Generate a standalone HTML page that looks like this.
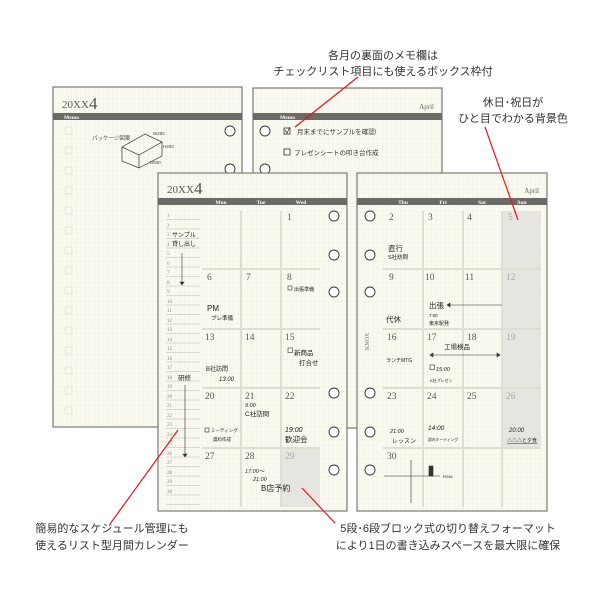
<!DOCTYPE html>
<html><head><meta charset="utf-8"><style>
html,body{margin:0;padding:0;background:#fff;width:600px;height:600px;overflow:hidden}
svg{display:block}
text{font-family:"Liberation Sans","Noto Sans CJK JP",sans-serif}
text.s,.s text{font-family:"Liberation Serif","Noto Serif CJK SC",serif}
.h text{fill:#333}
</style></head><body>
<svg width="600" height="600" viewBox="0 0 600 600" xmlns="http://www.w3.org/2000/svg">
<defs>
<pattern id="g" width="4.5" height="4.5" patternUnits="userSpaceOnUse">
<rect width="4.5" height="4.5" fill="#fbfaf0"/>
<path d="M4.5 0V4.5H0" fill="none" stroke="#ebe9db" stroke-width="0.6"/>
</pattern>
</defs>

<!-- Back left page -->
<rect x="53" y="87" width="189" height="340" fill="url(#g)" stroke="#7a7a76" stroke-width="1.2"/>
<text x="62" y="108" class="s" font-size="11" fill="#555">20XX</text>
<text x="89" y="109" class="s" font-size="17" fill="#555">4</text>
<rect x="53" y="113" width="189" height="7" fill="#6b6a66"/>
<text x="64" y="119" class="s" font-size="5.5" fill="#fff" font-weight="bold">Memo</text>
<g fill="none" stroke="#e3e1d3" stroke-width="0.8">
<rect x="65" y="127" width="7" height="7"/><rect x="65" y="147" width="7" height="7"/><rect x="65" y="167" width="7" height="7"/><rect x="65" y="187" width="7" height="7"/><rect x="65" y="207" width="7" height="7"/><rect x="65" y="227" width="7" height="7"/><rect x="65" y="247" width="7" height="7"/><rect x="65" y="267" width="7" height="7"/><rect x="65" y="287" width="7" height="7"/><rect x="65" y="307" width="7" height="7"/><rect x="65" y="327" width="7" height="7"/><rect x="65" y="347" width="7" height="7"/><rect x="65" y="367" width="7" height="7"/><rect x="65" y="387" width="7" height="7"/><rect x="65" y="407" width="7" height="7"/>
</g>
<g fill="#fff" stroke="#333" stroke-width="0.9"><circle cx="230" cy="131" r="5"/><circle cx="230" cy="169" r="5"/></g>
<text x="92" y="140" font-size="5.5" fill="#444">パッケージ図案</text>
<g fill="none" stroke="#333" stroke-width="0.7">
<path d="M122 147L145 134L162 142L139 155Z M122 147V161L139 168V155 M139 168L162 156V142"/>
</g>
<text x="153" y="135" font-size="4.5" fill="#444">W250</text>
<text x="163" y="148" font-size="4.5" fill="#444">H200</text>
<text x="150" y="164" font-size="4.5" fill="#444">D500</text>

<!-- Back right page -->
<rect x="253" y="88" width="189" height="340" fill="url(#g)" stroke="#7a7a76" stroke-width="1.2"/>
<text x="434" y="109" class="s" font-size="7" fill="#666" text-anchor="end">April</text>
<rect x="253" y="113" width="189" height="7" fill="#6b6a66"/>
<text x="280" y="119" class="s" font-size="5.5" fill="#fff" font-weight="bold">Memo</text>
<g fill="#fff" stroke="#333" stroke-width="0.9"><circle cx="265" cy="131" r="5"/><circle cx="265" cy="169" r="5"/></g>
<rect x="284" y="128" width="6" height="6" fill="none" stroke="#333" stroke-width="0.8"/>
<path d="M285 130l2 3l3 -6" fill="none" stroke="#333" stroke-width="0.7"/>
<text x="297" y="134" font-size="6.5" fill="#333">月末までにサンプルを確認!</text>
<rect x="284" y="149" width="6" height="6" fill="none" stroke="#333" stroke-width="0.8"/>
<text x="294" y="155" font-size="6.5" fill="#333">プレゼンシートの叩き台作成</text>

<!-- Front left page -->
<rect x="158" y="173" width="189" height="338" fill="url(#g)" stroke="#7a7a76" stroke-width="1.2"/>
<text x="167" y="193" class="s" font-size="11" fill="#555">20XX</text>
<text x="194" y="194" class="s" font-size="17" fill="#555">4</text>
<rect x="158" y="198" width="189" height="7" fill="#6b6a66"/>
<g class="s" font-size="5.5" fill="#fff" font-weight="bold" text-anchor="middle">
<text x="221" y="204">Mon</text><text x="261" y="204">Tue</text><text x="301" y="204">Wed</text></g>
<g stroke="#b8b7b0" stroke-width="0.6">
<path d="M166 219.5H200M166 229H200M166 238.5H200M166 248H200M166 257.5H200M166 267H200M166 276.5H200M166 286H200M166 295.5H200M166 305H200M166 314.5H200M166 324H200M166 333.5H200M166 343H200M166 352.5H200M166 362H200M166 371.5H200M166 381H200M166 390.5H200M166 400H200M166 409.5H200M166 419H200M166 428.5H200M166 438H200M166 447.5H200M166 457H200M166 466.5H200M166 476H200M166 485.5H200M166 495H200M166 504.5H200"/>
</g>
<g font-size="5" fill="#888" class="s">
<text x="167" y="217">1</text><text x="167" y="227">2</text><text x="167" y="236">3</text><text x="167" y="246">4</text><text x="167" y="255">5</text><text x="167" y="265">6</text><text x="167" y="274">7</text><text x="167" y="284">8</text><text x="167" y="293">9</text><text x="167" y="303">10</text><text x="167" y="312">11</text><text x="167" y="322">12</text><text x="167" y="331">13</text><text x="167" y="341">14</text><text x="167" y="350">15</text><text x="167" y="360">16</text><text x="167" y="369">17</text><text x="167" y="379">18</text><text x="167" y="388">19</text><text x="167" y="398">20</text><text x="167" y="407">21</text><text x="167" y="417">22</text><text x="167" y="426">23</text><text x="167" y="436">24</text><text x="167" y="445">25</text><text x="167" y="455">26</text><text x="167" y="464">27</text><text x="167" y="474">28</text><text x="167" y="483">29</text><text x="167" y="493">30</text>
</g>
<text x="172" y="237" font-size="6" fill="#222">サンプル</text>
<text x="172" y="246" font-size="6" fill="#222">貸し出し</text>
<text x="178" y="380" font-size="6.5" fill="#222">研修</text>
<g stroke="#333" stroke-width="0.6" fill="#333"><path d="M182 253V283"/><path d="M180 282l2 3l2 -3z"/><path d="M185 385V455"/><path d="M183 454l2 3l2 -3z"/></g>
<rect x="282" y="449" width="38" height="58" fill="#e6e5e0"/>
<g stroke="#e0ded2" stroke-width="2"><path d="M241 211V507M281 211V507M202 269H320M202 329H320M202 388H320M202 448H320"/></g>
<g class="s" font-size="9.5" fill="#555">
<text x="287" y="220">1</text><text x="207" y="280">6</text><text x="246" y="280">7</text><text x="287" y="280">8</text>
<text x="205" y="340">13</text><text x="245" y="340">14</text><text x="285" y="340">15</text>
<text x="205" y="399">20</text><text x="245" y="399">21</text><text x="285" y="399">22</text>
<text x="205" y="459">27</text><text x="245" y="459">28</text><text x="285" y="459" fill="#aaa">29</text></g>
<g fill="#222">
<rect x="288" y="286" width="4" height="4" fill="none" stroke="#333" stroke-width="0.6"/><text x="294" y="291" font-size="5">出張準備</text>
<text x="207" y="311" font-size="8">PM</text><text x="211" y="320" font-size="5.5">プレ準備</text>
<rect x="288" y="348" width="4.5" height="4.5" fill="none" stroke="#333" stroke-width="0.6"/><text x="294" y="355" font-size="6.5">新商品</text><text x="299" y="365" font-size="6.5">打合せ</text>
<text x="206" y="371" font-size="6">B社訪問</text><text x="219" y="381" font-size="6" font-style="italic">13:00</text>
<text x="245" y="407" font-size="5.5" font-style="italic">9:00</text><text x="245" y="416" font-size="6.5">C社訪問</text>
<rect x="205" y="428" width="4" height="4" fill="none" stroke="#333" stroke-width="0.6"/><text x="211" y="432" font-size="4.5">ミーティング</text><text x="213" y="441" font-size="4.5">資料作成</text>
<text x="285" y="432" font-size="7" font-style="italic">19:00</text><text x="285" y="442" font-size="7.5">歓迎会</text>
<text x="245" y="473" font-size="5.5" font-style="italic">17:00〜</text><text x="253" y="481" font-size="5.5" font-style="italic">21:00</text>
<text x="261" y="491" font-size="8">B店予約</text>
</g>
<g fill="#fff" stroke="#333" stroke-width="0.9"><circle cx="334" cy="216" r="5"/><circle cx="334" cy="255" r="5"/><circle cx="334" cy="292" r="5"/><circle cx="334" cy="393" r="5"/><circle cx="334" cy="432" r="5"/><circle cx="334" cy="470" r="5"/></g>

<!-- Front right page -->
<rect x="357" y="173" width="190" height="338" fill="url(#g)" stroke="#7a7a76" stroke-width="1.2"/>
<text x="539" y="193" class="s" font-size="7" fill="#666" text-anchor="end">April</text>
<rect x="357" y="198" width="190" height="7" fill="#6b6a66"/>
<g class="s" font-size="5.5" fill="#fff" font-weight="bold" text-anchor="middle">
<text x="403" y="204">Thu</text><text x="443" y="204">Fri</text><text x="482" y="204">Sat</text><text x="522" y="204">Sun</text></g>
<rect x="503" y="211" width="38" height="237" fill="#e6e5e0"/>
<g stroke="#e0ded2" stroke-width="2"><path d="M423 211V507M463 211V507M502 211V507M383 269H541M383 329H541M383 388H541M383 448H541"/></g>
<g class="s" font-size="9.5" fill="#555">
<text x="389" y="220">2</text><text x="428" y="220">3</text><text x="467" y="220">4</text><text x="508" y="220" fill="#aaa">5</text>
<text x="389" y="280">9</text><text x="425" y="280">10</text><text x="465" y="280">11</text><text x="506" y="280" fill="#aaa">12</text>
<text x="387" y="340">16</text><text x="427" y="340">17</text><text x="467" y="340">18</text><text x="506" y="340" fill="#aaa">19</text>
<text x="387" y="399">23</text><text x="427" y="399">24</text><text x="467" y="399">25</text><text x="506" y="399" fill="#aaa">26</text>
<text x="387" y="459">30</text></g>
<g fill="#222">
<text x="388" y="251" font-size="7.5">直行</text><text x="388" y="259" font-size="5.5">S社訪問</text>
<text x="429" y="308" font-size="7.5">出張</text><text x="429" y="317" font-size="4.5">7:00</text><text x="429" y="325" font-size="5">東京駅発</text>
<text x="386" y="322" font-size="7.5">代休</text>
<text x="444" y="349" font-size="6.5">工場検品</text>
<text x="386" y="362" font-size="5">ランチMTG</text>
<rect x="430" y="365" width="4.5" height="4.5" fill="none" stroke="#333" stroke-width="0.6"/><text x="436" y="371" font-size="5.5" font-style="italic">15:00</text><text x="430" y="382" font-size="4">K社プレゼン</text>
<text x="390" y="433" font-size="5.5" font-style="italic">21:00</text><text x="392" y="443" font-size="6">レッスン</text>
<text x="428" y="430" font-size="6.5" font-style="italic">14:00</text><text x="428" y="441" font-size="3.8">部内ミーティング</text>
<text x="509" y="432" font-size="6" font-style="italic">20:00</text><text x="507" y="442" font-size="5" text-decoration="underline">△△△と夕食</text>
<text x="443" y="478" font-size="4">R246</text>
</g>
<g stroke="#333" stroke-width="0.6" fill="#333">
<path d="M448 305H502"/><path d="M450 303l-3 2l3 2z"/>
<path d="M430 355H500"/><path d="M433 353l-3 2l3 2z"/><path d="M497 353l3 2l-3 2z"/>
<path d="M384 476H440M411 460V503" fill="none"/><rect x="429" y="466" width="4" height="10"/>
</g>
<text transform="translate(369 350) rotate(-90)" class="s" font-size="6" fill="#777">KNOX</text>
<g fill="#fff" stroke="#333" stroke-width="0.9"><circle cx="370" cy="216" r="5"/><circle cx="370" cy="255" r="5"/><circle cx="370" cy="292" r="5"/><circle cx="370" cy="393" r="5"/><circle cx="370" cy="432" r="5"/><circle cx="370" cy="470" r="5"/></g>

<!-- annotations -->
<g stroke="#e8141c" stroke-width="1.2"><path d="M358 77L295 127M485 127L518 220M110 524L178 430M335 523L302 488"/></g>
<g class="h" font-size="11" text-anchor="middle">
<text x="383" y="59">各月の裏面のメモ欄は</text>
<text x="383" y="75">チェックリスト項目にも使えるボックス枠付</text>
<text x="513" y="106">休日･祝日が</text>
<text x="513" y="122">ひと目でわかる背景色</text>
<text x="112" y="532">簡易的なスケジュール管理にも</text>
<text x="112" y="549">使えるリスト型月間カレンダー</text>
<text x="448" y="532">5段･6段ブロック式の切り替えフォーマット</text>
<text x="448" y="549">により1日の書き込みスペースを最大限に確保</text>
</g>
</svg>
</body></html>
